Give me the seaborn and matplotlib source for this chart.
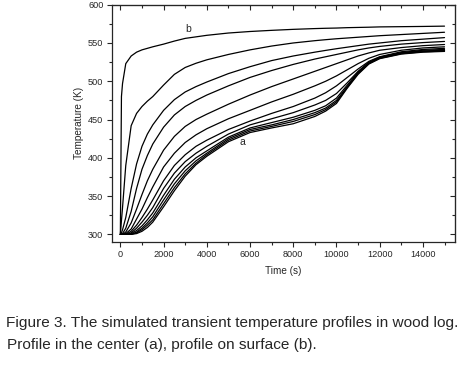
import numpy as np
import pandas as pd
import seaborn as sns
import matplotlib
matplotlib.use('Agg')
import matplotlib.pyplot as plt
from matplotlib.ticker import MultipleLocator

# time grid (s)
time_s = [0, 50, 100, 250, 500, 750, 1000, 1250, 1500, 2000, 2500, 3000, 3500, 4000,
          5000, 6000, 7000, 8000, 9000, 9500, 10000, 10500, 11000, 11500, 12000,
          13000, 14000, 15000]

# temperature profiles (K), surface (b) -> center (a)
temp_b = [300, 480, 497, 523, 533, 538, 541, 543, 545, 548.5, 552.5, 556, 558, 560,
          563, 565, 566.5, 567.8, 568.8, 569.2, 569.5, 570, 570.3, 570.6, 571,
          571.3, 571.6, 572]
temp_2 = [300, 318, 335, 390, 442, 458, 467, 474, 480, 495, 509, 518, 523.5, 528,
          535, 541, 546, 550, 553, 554.3, 555.5, 556.5, 557.5, 558.5, 559.5,
          561, 562.5, 564]
temp_3 = [300, 302, 306, 322, 360, 392, 415, 431, 443, 462, 476, 486, 493, 499,
          510, 519, 527, 533, 538, 540.3, 542.5, 544.5, 546.5, 548.5, 550,
          553, 555, 557]
temp_4 = [300, 300, 301, 308, 330, 360, 385, 403, 418, 440, 456, 467, 475, 482,
          494, 505, 514, 522, 529, 532, 535, 538, 541, 543.5, 545.5,
          548.5, 550.5, 552]
temp_5 = [300, 300, 300, 303, 315, 333, 352, 370, 385, 410, 428, 441, 450, 457,
          470, 482, 493, 503, 513, 518, 523, 528, 533, 537, 540.5,
          544, 546.5, 548]
temp_6 = [300, 300, 300, 301, 307, 320, 333, 348, 362, 388, 406, 420, 430, 438,
          451, 462, 473, 483, 494, 500, 507, 515, 523, 530, 535,
          540.5, 543.5, 545]
temp_7 = [300, 300, 300, 300, 304, 312, 322, 333, 345, 370, 390, 404, 415, 423,
          437, 448, 458, 467, 478, 485, 494, 505, 516, 526, 532,
          538.5, 541.5, 543]
temp_8 = [300, 300, 300, 300, 302, 308, 316, 325, 335, 360, 380, 395, 406, 415,
          431, 443, 451, 459, 469, 475, 484, 498, 513, 525, 531.5,
          537.5, 540.5, 541.5]
temp_9 = [300, 300, 300, 300, 301, 305, 311, 319, 328, 351, 372, 388, 400, 409,
          427, 439, 446, 453, 462, 468, 478, 495, 512, 524, 531,
          537, 539.5, 540.5]
temp_10 = [300, 300, 300, 300, 300, 303, 308, 315, 323, 345, 366, 383, 396, 406,
           425, 437, 443, 450, 459, 465, 475, 493, 511, 523.5, 530.5,
           536.5, 539, 540]
temp_11 = [300, 300, 300, 300, 300, 302, 306, 312, 319, 340, 361, 379, 393, 404,
           423, 435, 441, 447.5, 456.5, 463, 473, 492, 510, 523, 530,
           536, 538.5, 539.5]
temp_a = [300, 300, 300, 300, 300, 301, 304, 309, 316, 336, 357, 376, 391, 402,
          421, 433, 439, 444.5, 454, 461, 471, 491, 509, 522.5, 529.5,
          535.5, 538, 539]

profiles = [temp_b, temp_2, temp_3, temp_4, temp_5, temp_6, temp_7, temp_8,
            temp_9, temp_10, temp_11, temp_a]

df = pd.concat([pd.DataFrame({'Time': time_s, 'Temperature': p, 'curve': i})
                for i, p in enumerate(profiles)], ignore_index=True)

sns.set_style('ticks')
plt.rcParams['font.family'] = ['Liberation Sans', 'DejaVu Sans']

fig = plt.figure(figsize=(4.63, 3.70), dpi=100)
ax = fig.add_axes([0.2413, 0.3459, 0.9834 - 0.2413, 0.9873 - 0.3459])

sns.lineplot(data=df, x='Time', y='Temperature', hue='curve', units='curve',
             estimator=None, palette=['black'] * len(profiles), legend=False,
             lw=0.9, ax=ax)

ax.set_xlim(-400, 15500)
ax.set_ylim(290, 600)
ax.xaxis.set_major_locator(MultipleLocator(2000))
ax.xaxis.set_minor_locator(MultipleLocator(1000))
ax.yaxis.set_major_locator(MultipleLocator(50))
ax.yaxis.set_minor_locator(MultipleLocator(25))
ax.tick_params(which='major', direction='out', length=3.5, width=0.8,
               labelsize=6.6, pad=2.5)
ax.tick_params(which='minor', direction='out', length=2, width=0.8)
for s in ax.spines.values():
    s.set_linewidth(0.9)

# inward ticks on top and right
top = ax.secondary_xaxis('top')
top.xaxis.set_major_locator(MultipleLocator(2000))
top.xaxis.set_minor_locator(MultipleLocator(1000))
top.tick_params(which='major', direction='in', length=3.5, width=0.8, labeltop=False)
top.tick_params(which='minor', direction='in', length=2, width=0.8)
right = ax.secondary_yaxis('right')
right.yaxis.set_major_locator(MultipleLocator(50))
right.yaxis.set_minor_locator(MultipleLocator(25))
right.tick_params(which='major', direction='in', length=3.5, width=0.8, labelright=False)
right.tick_params(which='minor', direction='in', length=2, width=0.8)

ax.set_xlabel('Time (s)', fontsize=7.2, labelpad=5)
ax.set_ylabel('Temperature (K)', fontsize=7.2, labelpad=3)

ax.text(3120, 568, 'b', fontsize=7.5, ha='center', va='center')
ax.text(5630, 420.5, 'a', fontsize=7.5, ha='center', va='center')

fig.text(6 / 463, 1 - 322.5 / 370,
         'Figure 3. The simulated transient temperature profiles in wood log.',
         fontsize=11.1, ha='left', va='center')
fig.text(7 / 463, 1 - 344.5 / 370,
         'Profile in the center (a), profile on surface (b).',
         fontsize=11.1, ha='left', va='center')

fig.savefig('out.png', dpi=100)
